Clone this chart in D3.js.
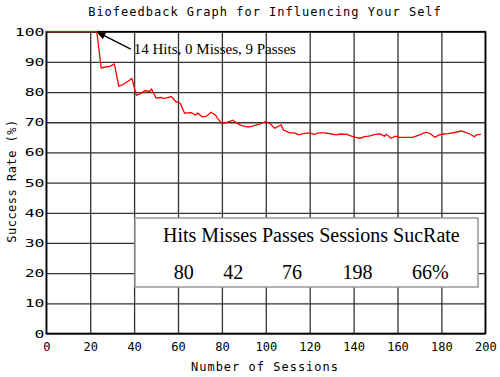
<!DOCTYPE html>
<html>
<head>
<meta charset="utf-8">
<script src="https://cdn.jsdelivr.net/npm/d3@7"></script>
<style>
  body { margin: 0; background: #fff; }
  svg { display: block; }
</style>
</head>
<body>
<div id="wrapper"></div>
<script>
// data
const sessions = [0, 23, 25, 27, 29, 31, 33, 35, 37, 39, 41, 43, 45, 47, 48, 50, 52, 54, 57, 59, 61, 63, 64, 66, 68, 69, 71, 73, 75, 77, 78, 80, 82, 85, 87, 89, 92, 94, 97, 100, 102, 104, 107, 108, 111, 113, 115, 117, 120, 122, 124, 127, 130, 132, 134, 137, 139, 141, 143, 145, 147, 150, 152, 154, 155, 157, 159, 161, 164, 167, 170, 173, 175, 177, 179, 181, 183, 186, 189, 190, 193, 195, 196, 198];
const rates = [100, 100, 88, 88.3, 88.5, 89.3, 82, 82.5, 83.5, 84.5, 79, 79.5, 80.5, 80.2, 81, 78, 78.2, 77.9, 78.5, 76.8, 76.3, 73, 73.1, 73.2, 72.4, 73, 71.8, 72, 73.3, 72.4, 71.3, 69.6, 69.9, 70.7, 69.6, 68.9, 68.4, 68.7, 69.4, 70.2, 69.5, 68, 69.1, 67.4, 66.5, 66.5, 65.8, 66.2, 66.5, 66, 66.5, 66.5, 66.1, 65.8, 66.1, 66, 65.4, 65, 64.7, 65.2, 65.4, 66, 66.1, 65.4, 66, 64.7, 65.4, 65, 65, 65, 65.8, 66.7, 66.2, 65, 65.8, 66.1, 66.2, 66.6, 67.1, 66.9, 66.1, 65.2, 65.8, 66];

const xTicks = [0, 20, 40, 60, 80, 100, 120, 140, 160, 180, 200];
const yTicks = [0, 10, 20, 30, 40, 50, 60, 70, 80, 90, 100];

const legendLabels = ['Hits', 'Misses', 'Passes', 'Sessions', 'SucRate'];
const legendValues = ['80', '42', '76', '198', '66%'];

// annotation: session 23 -> 14 hits, 0 misses, 9 passes
const noteSession = 23;
const noteRate = 100;
const noteText = '14 Hits, 0 Misses, 9 Passes';

const titleText = 'Biofeedback Graph for Influencing Your Self';
const xLabel = 'Number of Sessions';
const yLabel = 'Success Rate (%)';

let dimensions = {
  width: 500,
  height: 377,
  margin: { top: 31.7, right: 14.7, bottom: 43.5, left: 46.3 },
};
dimensions.innerWidth = dimensions.width - dimensions.margin.left - dimensions.margin.right;
dimensions.innerHeight = dimensions.height - dimensions.margin.top - dimensions.margin.bottom;

const mono = '"DejaVu Sans Mono", monospace';
const serif = '"Liberation Serif", "Times New Roman", serif';

const wrapper = d3.select('#wrapper')
  .append('svg')
  .attr('width', dimensions.width)
  .attr('height', dimensions.height);

const bounds = wrapper.append('g')
  .attr('transform', `translate(${dimensions.margin.left},${dimensions.margin.top})`);

const xScale = d3.scaleLinear().domain([0, 200]).range([0, dimensions.innerWidth]);
const yScale = d3.scaleLinear().domain([0, 100]).range([dimensions.innerHeight, 0]);

// grid via axes
const xAxis = bounds.append('g')
  .attr('transform', `translate(0,${dimensions.innerHeight})`)
  .call(d3.axisBottom(xScale).tickValues(xTicks).tickSize(-dimensions.innerHeight).tickPadding(9));

const yAxis = bounds.append('g')
  .call(d3.axisLeft(yScale).tickValues(yTicks).tickSize(-dimensions.innerWidth));

[xAxis, yAxis].forEach(a => {
  a.select('.domain').remove();
  a.selectAll('.tick line').attr('stroke', '#333').attr('stroke-width', 1.3);
});

xAxis.selectAll('text')
  .attr('font-family', mono)
  .attr('font-size', 12)
  .attr('fill', '#000');

yAxis.selectAll('text')
  .attr('font-family', mono)
  .attr('font-size', 11)
  .attr('fill', '#000')
  .attr('x', -1.2)
  .attr('transform', 'scale(1.5,1)');

// frame
bounds.append('rect')
  .attr('width', dimensions.innerWidth)
  .attr('height', dimensions.innerHeight)
  .attr('fill', 'none')
  .attr('stroke', '#000')
  .attr('stroke-width', 1.6);

// red line
const line = d3.line()
  .x((d, i) => xScale(sessions[i]))
  .y(d => yScale(d));

bounds.append('path')
  .datum(rates)
  .attr('d', line)
  .attr('fill', 'none')
  .attr('stroke', '#ff0000')
  .attr('stroke-width', 1.3);

// annotation arrow
wrapper.append('defs').append('marker')
  .attr('id', 'arrow')
  .attr('viewBox', '0 0 10 10')
  .attr('refX', 9).attr('refY', 5)
  .attr('markerWidth', 7).attr('markerHeight', 7)
  .attr('orient', 'auto')
  .append('path')
  .attr('d', 'M0,1 L10,5 L0,9 z')
  .attr('fill', '#000');

const ax = xScale(noteSession);
const ay = yScale(noteRate);
bounds.append('line')
  .attr('x1', ax + 34).attr('y1', ay + 17.5)
  .attr('x2', ax + 0.5).attr('y2', ay + 0.5)
  .attr('stroke', '#000')
  .attr('stroke-width', 1.3)
  .attr('marker-end', 'url(#arrow)');

bounds.append('text')
  .attr('x', ax + 37)
  .attr('y', ay + 22)
  .attr('font-family', serif)
  .attr('font-size', 15)
  .attr('fill', '#000')
  .text(noteText);

// legend box
const legend = wrapper.append('g');
legend.append('rect')
  .attr('x', 135).attr('y', 218)
  .attr('width', 343).attr('height', 69)
  .attr('fill', '#fff')
  .attr('stroke', '#999')
  .attr('stroke-width', 1.5);

let cx = 163;
legendLabels.forEach((lab, i) => {
  const t = legend.append('text')
    .attr('x', cx).attr('y', 242)
    .attr('font-family', serif)
    .attr('font-size', 20)
    .attr('fill', '#000')
    .text(lab);
  const w = t.node().getComputedTextLength();
  legend.append('text')
    .attr('x', cx + w / 2 + 4)
    .attr('y', 279)
    .attr('text-anchor', 'middle')
    .attr('font-family', serif)
    .attr('font-size', 20)
    .attr('fill', '#000')
    .text(legendValues[i]);
  cx += w + 5;
});

// titles
wrapper.append('text')
  .attr('x', 265).attr('y', 15.5)
  .attr('text-anchor', 'middle')
  .attr('font-family', mono)
  .attr('font-size', 12)
  .attr('letter-spacing', 1)
  .text(titleText);

wrapper.append('text')
  .attr('x', 265).attr('y', 371)
  .attr('text-anchor', 'middle')
  .attr('font-family', mono)
  .attr('font-size', 12)
  .attr('letter-spacing', 1)
  .text(xLabel);

wrapper.append('text')
  .attr('transform', 'translate(16,181) rotate(-90)')
  .attr('text-anchor', 'middle')
  .attr('font-family', mono)
  .attr('font-size', 12)
  .attr('letter-spacing', 0.5)
  .text(yLabel);
</script>
</body>
</html>
